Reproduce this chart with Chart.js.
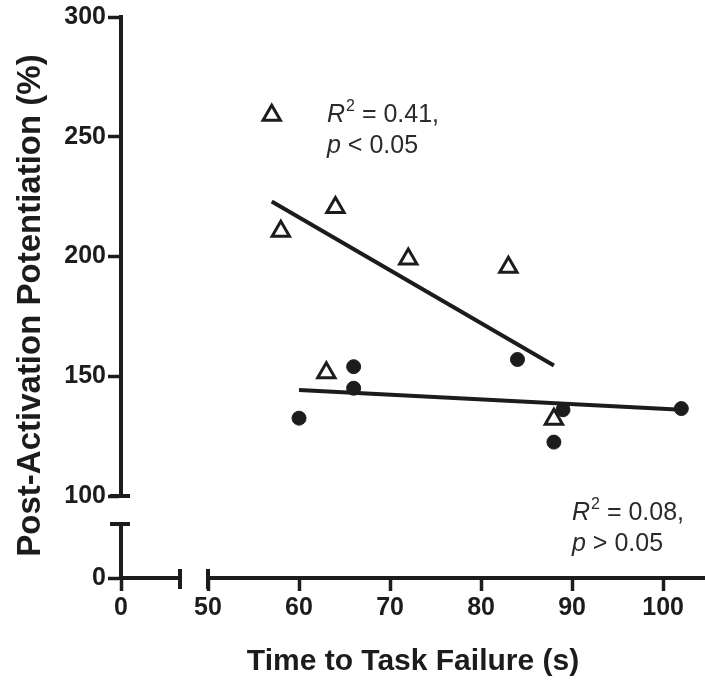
<!DOCTYPE html>
<html>
<head>
<meta charset="utf-8">
<script src="https://cdn.jsdelivr.net/npm/chart.js@4.4.1/dist/chart.umd.min.js"></script>
<style>
  html, body { margin: 0; padding: 0; background: #fff; }
  #wrap { width: 705px; height: 683px; }
</style>
</head>
<body>
<div id="wrap"><canvas id="chart" width="705" height="683"></canvas></div>
<script>
// open triangles
const triX = [57, 58, 64, 72, 83, 63, 88];
const triY = [259, 210.5, 220.5, 199, 195.5, 151.5, 132];
// filled circles
const dotX = [60, 66, 66, 84, 89, 88, 102];
const dotY = [132.5, 154, 145, 157, 136, 122.5, 136.5];
// regression lines (end points)
const fitTriX = [57, 88];
const fitTriY = [223, 154.5];
const fitDotX = [60, 102];
const fitDotY = [144.3, 136];

const xTicks = [50, 60, 70, 80, 90, 100];
const xLowTicks = [0];
const yTicks = [100, 150, 200, 250, 300];
const yLowTicks = [0];

const xTitle = 'Time to Task Failure (s)';
const yTitle = 'Post-Activation Potentiation (%)';

const INK = '#1c1c1c';
const FONT = '"Liberation Sans", Arial, Helvetica, sans-serif';

function pts(xs, ys) {
    return xs.map((x, i) => ({ x: x, y: ys[i] }));
}
function fixTicks(values) {
    return scale => { scale.ticks = values.map(v => ({ value: v })); };
}

const tickFont = { family: FONT, size: 25, weight: 'bold' };

function axis(extra) {
    return Object.assign({
        type: 'linear',
        border: { display: true, color: INK, width: 4 },
        grid: { display: true, drawOnChartArea: false, drawTicks: true, tickLength: 13, tickWidth: 3.5, tickColor: INK, color: INK },
        ticks: { color: INK, font: tickFont, padding: 2, autoSkip: false, maxRotation: 0, minRotation: 0 }
    }, extra);
}
function spacer(extra) {
    return Object.assign({
        type: 'linear', min: 0, max: 1,
        border: { display: false },
        grid: { display: false },
        ticks: { display: false }
    }, extra);
}
// fixed axis sizes, and no extra room asked for the outer tick labels
const fitW = s => { s.width = 121; s.paddingTop = 0; s.paddingBottom = 0; };
const fitH = s => { s.height = 105; s.paddingLeft = 0; s.paddingRight = 0; };

// stat labels
function drawStat(ctx, x, y, letter, sup, rest) {
    ctx.font = 'italic 25px ' + FONT;
    ctx.fillText(letter, x, y);
    let w = ctx.measureText(letter).width;
    if (sup) {
        ctx.font = '16px ' + FONT;
        ctx.fillText(sup, x + w + 1, y - 11);
        w += ctx.measureText(sup).width + 1;
    }
    ctx.font = '25px ' + FONT;
    ctx.fillText(rest, x + w, y);
}

const decor = {
    id: 'decor',
    afterDraw(chart) {
        const ctx = chart.ctx;
        const s = chart.scales;
        const area = chart.chartArea;
        ctx.save();
        ctx.strokeStyle = INK;
        ctx.lineWidth = 4;
        const axisY = s.x.top;
        const axisX = s.y.right;
        // end caps at the axis breaks
        [
            [s.x0.getPixelForValue(s.x0.max), axisY, 'v'],
            [s.x.getPixelForValue(s.x.min), axisY, 'v'],
            [axisX, s.y.getPixelForValue(s.y.min), 'h'],
            [axisX, s.y0.getPixelForValue(s.y0.max), 'h']
        ].forEach(([cx, cy, dir]) => {
            ctx.beginPath();
            if (dir === 'v') { ctx.moveTo(cx, cy - 9); ctx.lineTo(cx, cy + 11); }
            else { ctx.moveTo(cx - 11, cy); ctx.lineTo(cx + 9, cy); }
            ctx.stroke();
        });

        ctx.fillStyle = '#2a2a2a';
        ctx.textAlign = 'left';
        ctx.textBaseline = 'alphabetic';
        drawStat(ctx, 327, 122, 'R', '2', ' = 0.41,');
        drawStat(ctx, 327, 153, 'p', '', ' < 0.05');
        drawStat(ctx, 572, 520, 'R', '2', ' = 0.08,');
        drawStat(ctx, 572, 551, 'p', '', ' > 0.05');

        // axis titles
        ctx.fillStyle = INK;
        ctx.font = 'bold 30px ' + FONT;
        ctx.textAlign = 'center';
        ctx.fillText(xTitle, (area.left + area.right) / 2, 670);
        ctx.font = 'bold 33px ' + FONT;
        ctx.translate(40, (area.top + area.bottom) / 2 + 8);
        ctx.rotate(-Math.PI / 2);
        ctx.fillText(yTitle, 0, 0);
        ctx.restore();
    }
};

new Chart(document.getElementById('chart'), {
    type: 'scatter',
    data: {
        datasets: [
            { label: 'circles', data: pts(dotX, dotY), pointStyle: 'circle', pointRadius: 7, pointBorderWidth: 1,
              backgroundColor: INK, borderColor: INK, order: 1, xAxisID: 'x', yAxisID: 'y' },
            { label: 'fit circles', data: pts(fitDotX, fitDotY), showLine: true, borderColor: INK, borderWidth: 4,
              pointRadius: 0, order: 2, xAxisID: 'x', yAxisID: 'y' },
            { label: 'fit triangles', data: pts(fitTriX, fitTriY), showLine: true, borderColor: INK, borderWidth: 4,
              pointRadius: 0, order: 3, xAxisID: 'x', yAxisID: 'y' },
            { label: 'triangles', data: pts(triX, triY), pointStyle: 'triangle', pointRadius: 10, pointBorderWidth: 3,
              backgroundColor: '#fff', borderColor: INK, order: 4, xAxisID: 'x', yAxisID: 'y' }
        ]
    },
    options: {
        responsive: false,
        animation: false,
        events: [],
        layout: { autoPadding: false, padding: { top: 17, right: 0, bottom: 0, left: 0 } },
        plugins: { legend: { display: false }, tooltip: { enabled: false } },
        scales: {
            x0: axis({ axis: 'x', position: 'bottom', stack: 'xs', stackWeight: 59, min: 0, max: 24,
                       afterBuildTicks: fixTicks(xLowTicks), afterFit: fitH }),
            xg: spacer({ axis: 'x', position: 'bottom', stack: 'xs', stackWeight: 28, afterFit: fitH }),
            x: axis({ axis: 'x', position: 'bottom', stack: 'xs', stackWeight: 497, min: 50, max: 104.6,
                      afterBuildTicks: fixTicks(xTicks), afterFit: fitH }),
            y0: axis({ axis: 'y', position: 'left', stack: 'ys', stackWeight: 54, min: 0, max: 22,
                       afterBuildTicks: fixTicks(yLowTicks), afterFit: fitW }),
            yg: spacer({ axis: 'y', position: 'left', stack: 'ys', stackWeight: 28, afterFit: fitW }),
            y: axis({ axis: 'y', position: 'left', stack: 'ys', stackWeight: 479, min: 100, max: 300,
                      afterBuildTicks: fixTicks(yTicks), afterFit: fitW })
        }
    },
    plugins: [decor]
});
</script>
</body>
</html>
